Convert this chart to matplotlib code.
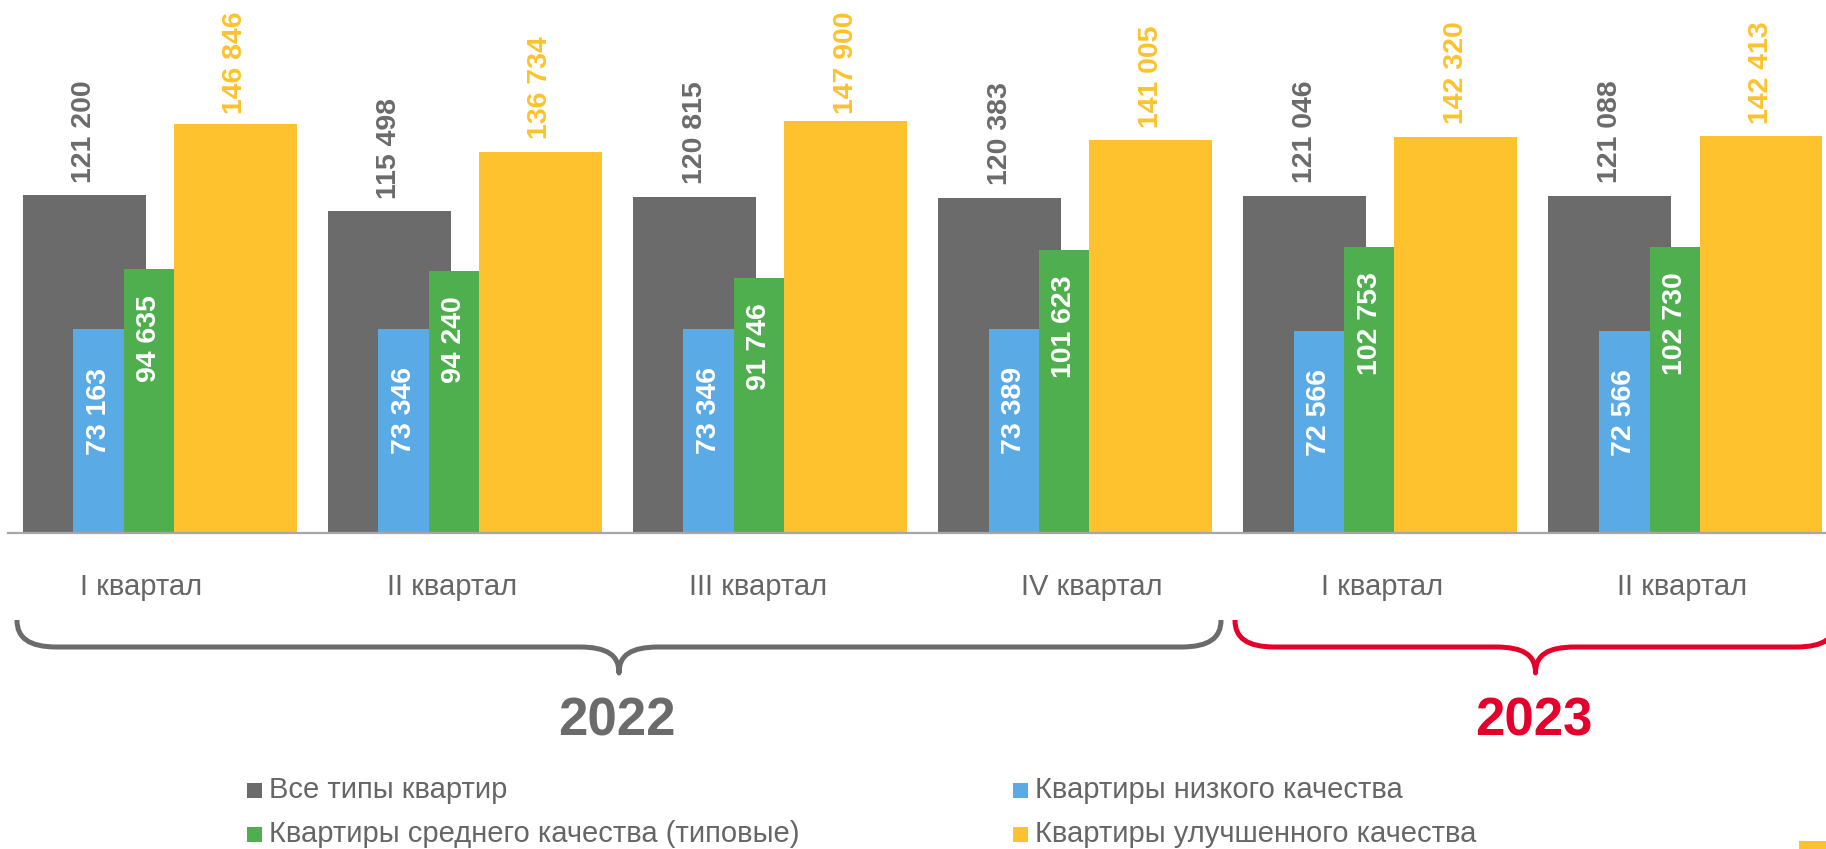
import matplotlib
matplotlib.use("Agg")
import matplotlib.pyplot as plt
from matplotlib.path import Path
from matplotlib.patches import PathPatch, Rectangle

plt.rcParams['font.family'] = ['Liberation Sans', 'DejaVu Sans']

# ---------------- data ----------------
quarters = ["I квартал", "II квартал", "III квартал", "IV квартал", "I квартал", "II квартал"]
years = ["2022", "2023"]
series_names = ["Все типы квартир", "Квартиры низкого качества",
                "Квартиры среднего качества (типовые)", "Квартиры улучшенного качества"]
all_types = [121200, 115498, 120815, 120383, 121046, 121088]
low_q = [73163, 73346, 73346, 73389, 72566, 72566]
mid_q = [94635, 94240, 91746, 101623, 102753, 102730]
high_q = [146846, 136734, 147900, 141005, 142320, 142413]

# ---------------- style ----------------
C_GRAY = '#6b6b6b'
C_BLUE = '#5aaae6'
C_GREEN = '#4faf4f'
C_YEL = '#fdc22d'
C_RED = '#e4002b'
C_TEXT = '#666666'

W, H = 1826, 849
fig = plt.figure(figsize=(W / 100, H / 100), dpi=100)
ax = fig.add_axes([8 / W, 316 / H, (W - 8) / W, 533 / H])
ax.set_xlim(-0.498, 5.46)
ax.set_ylim(0, 191400)
for s in ['top', 'right', 'left']:
    ax.spines[s].set_visible(False)
ax.spines['bottom'].set_color('#a6a6a6')
ax.spines['bottom'].set_linewidth(1.6)
ax.set_xticks([])
ax.set_yticks([])

x = list(range(len(quarters)))
# (values, offset, width, color, label colour, label placement)
specs = [
    (all_types, -0.248, 0.403, C_GRAY, C_GRAY, 'above'),
    (low_q, -0.201, 0.167, C_BLUE, 'white', 'in_blue'),
    (mid_q, -0.036, 0.164, C_GREEN, 'white', 'in_green'),
    (high_q, 0.247, 0.403, C_YEL, C_YEL, 'above'),
]
above_labels = []
for vals, off, wd, col, lcol, place in specs:
    xs = [i + off for i in x]
    ax.bar(xs, vals, width=wd, color=col, linewidth=0, zorder=2)
    for xi, v in zip(xs, vals):
        txt = f"{v:,}".replace(",", " ")
        if place == 'above':
            dy, va = 9.2, 'bottom'
        elif place == 'in_blue':
            dy, va = -27.6, 'top'
        else:
            dy, va = -18.5, 'top'
        an = ax.annotate(txt, xy=(xi, v), xytext=(0, dy), textcoords='offset points',
                         rotation=90, ha='center', va=va, fontsize=20.5,
                         fontweight='bold', color=lcol, zorder=5)
        if place == 'above':
            above_labels.append((an, dy))

# keep labels inside the plot area (as the original does): top at >= 12 px
fig.canvas.draw()
renderer = fig.canvas.get_renderer()
for an, dy in above_labels:
    bb = an.get_window_extent(renderer)
    limit = H - 12
    if bb.y1 > limit:
        excess_px = bb.y1 - limit
        an.xyann = (0, dy - excess_px * 72 / 100)

# category labels (slight nudges as in original text boxes)
nudges = [-0.063, -0.044, -0.040, 0.054, 0.006, -0.013]
for i, (q, n) in enumerate(zip(quarters, nudges)):
    ax.text(i + n, -54 / 533, q, transform=ax.get_xaxis_transform(),
            ha='center', va='center', fontsize=21, color=C_TEXT)

# ---------------- overlay in pixel coordinates ----------------
ov = fig.add_axes([0, 0, 1, 1])
ov.set_xlim(0, W)
ov.set_ylim(H, 0)
ov.axis('off')
ov.patch.set_alpha(0)


def brace(x0, x1, ytop, yline, ytip, color):
    xc = (x0 + x1) / 2
    verts = [
        (x0, ytop),
        (x0, ytop + 18), (x0 + 12, yline), (x0 + 40, yline),
        (xc - 40, yline),
        (xc - 12, yline), (xc, yline + 8), (xc, ytip),
        (xc, yline + 8), (xc + 12, yline), (xc + 40, yline),
        (x1 - 40, yline),
        (x1 - 12, yline), (x1, ytop + 18), (x1, ytop),
    ]
    codes = [Path.MOVETO,
             Path.CURVE4, Path.CURVE4, Path.CURVE4,
             Path.LINETO,
             Path.CURVE4, Path.CURVE4, Path.CURVE4,
             Path.CURVE4, Path.CURVE4, Path.CURVE4,
             Path.LINETO,
             Path.CURVE4, Path.CURVE4, Path.CURVE4]
    ov.add_patch(PathPatch(Path(verts, codes), facecolor='none', edgecolor=color,
                           lw=3.6, capstyle='butt', joinstyle='round'))


brace(17, 1221, 620, 647, 673, C_GRAY)
brace(1235, 1836, 620, 647, 673, C_RED)
ov.text(617, 721, years[0], fontsize=38, fontweight='bold', color=C_GRAY,
        ha='center', va='center')
ov.text(1534, 721, years[1], fontsize=38, fontweight='bold', color=C_RED,
        ha='center', va='center')

# legend (two columns, drawn manually)
leg_cols = [C_GRAY, C_BLUE, C_GREEN, C_YEL]
leg_pos = [(247, 790), (1013, 790), (247, 834), (1013, 834)]
for name, col, (lx, ly) in zip(series_names, leg_cols, leg_pos):
    ov.add_patch(Rectangle((lx, ly - 7.5), 15, 15, color=col, lw=0))
    ov.text(lx + 22, ly, name, fontsize=21, color=C_TEXT, ha='left', va='center')

# small decorative block in corner
ov.add_patch(Rectangle((1799, 841), 27, 8, color=C_YEL, lw=0))

fig.savefig("out.png", dpi=100)
